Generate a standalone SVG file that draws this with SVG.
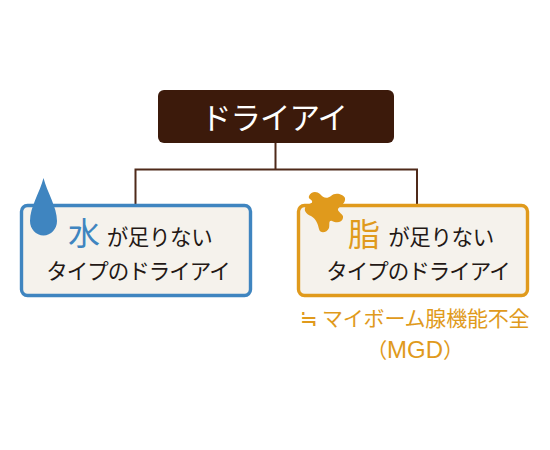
<svg xmlns="http://www.w3.org/2000/svg" width="550" height="450" viewBox="0 0 550 450">
<style>
text{font-family:"Noto Sans CJK JP","Noto Sans",sans-serif}
.box{fill:#f5f2ec;stroke-width:3.4}
.k{fill:#231815;font-size:21.500px;letter-spacing:-1px;text-anchor:middle}
.s{letter-spacing:-.4px}
.o{fill:#e09a1c;font-size:21px;letter-spacing:-.2px}
.conn{fill:none;stroke:#4f2a1a;stroke-width:2}
</style>
<rect width="550" height="450" fill="#fff"/>
<g id="connectors">
<path class="conn" d="M275.500 143V169.500M135.500 204V169.500H417V204"/>
</g>
<g id="root">
<rect x="158" y="90" width="236" height="53" rx="6" fill="#3c1a0b"/>
<text x="274" y="129" font-size="30.500" letter-spacing="-1" fill="#fff" text-anchor="middle">ドライアイ</text>
</g>
<g id="water">
<rect class="box" x="21.500" y="205.500" width="229" height="90" rx="6" stroke="#3f85c0"/>
<path d="M43.500 178C47 192 57 207 57 221C57 229 51 235.500 43.500 235.500C36 235.500 30 229 30 221C30 207 40 192 43.500 178Z" fill="#3f85c0"/>
<text x="84" y="245" font-size="32" fill="#3f85c0" text-anchor="middle">水</text>
<text class="k s" x="159.500" y="245">が足りない</text>
<text class="k" x="138" y="279">タイプのドライアイ</text>
</g>
<g id="oil">
<rect class="box" x="298.500" y="205.500" width="229" height="90" rx="6" stroke="#e09a1c"/>
<path d="M309 196C311 191 317 191 320 194C323 198 327 199 331 196C335 192 343 194 345 198C346 203 340 206 338 209C337 212 344 214 343 218C342 223 336 223 332 221C328 220 330 225 329 228C327 233 320 234 319 229C318 224 316 219 311 216C306 214 303 210 306 206C309 203 313 204 312 201C311 199 308 199 309 196Z" fill="#e09a1c"/>
<text x="364" y="246" font-size="32" fill="#e09a1c" text-anchor="middle">脂</text>
<text class="k s" x="441" y="245">が足りない</text>
<text class="k" x="418" y="279">タイプのドライアイ</text>
<text class="o" x="300" y="326">≒</text>
<text class="o" x="322" y="326">マイボーム腺機能不全</text>
<text class="o" x="415" y="358" text-anchor="middle">（<tspan font-size="24" style="font-family:'Liberation Sans',sans-serif" letter-spacing="0">MGD</tspan>）</text>
</g>
</svg>
